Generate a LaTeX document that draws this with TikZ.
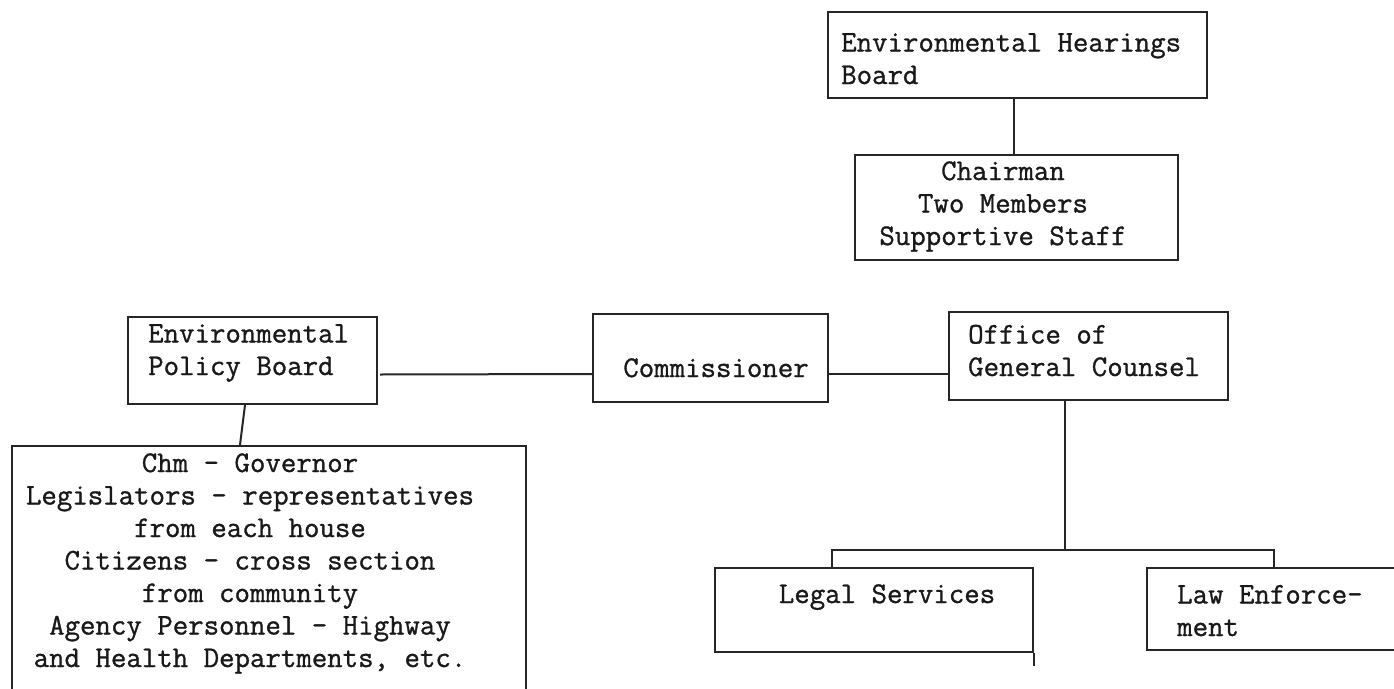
\documentclass[tikz,border=0pt]{standalone}
\usepackage{fontspec}
\setmonofont{Latin Modern Mono}[FakeBold=1]
\tikzset{
  box/.style={draw=black!85, line width=2pt, inner sep=0pt, rectangle},
  txt/.style={font=\fontsize{30}{32.5}\selectfont\ttfamily, inner sep=0pt, text=black!90},
  conn/.style={draw=black!85, line width=2pt}
}
\begin{document}
\begin{tikzpicture}[x=1pt,y=-1pt]
\useasboundingbox (0,0) rectangle (1394,688);
\fill[white] (0,0) rectangle (1394,688);

% boxes
\node[box, minimum width=379pt, minimum height=86pt] (ehb) at (1017.5,55) {};
\node[box, minimum width=323pt, minimum height=105pt] (chair) at (1016.5,207.5) {};
\node[box, minimum width=249pt, minimum height=87pt] (epb) at (252.5,360.5) {};
\node[box, minimum width=235pt, minimum height=88pt] (comm) at (710.5,358) {};
\node[box, minimum width=279pt, minimum height=88pt] (ogc) at (1088.5,356) {};
\node[box, minimum width=318pt, minimum height=84pt] (legal) at (874,610) {};
\node[box, minimum width=273pt, minimum height=82pt] (law) at (1283.5,609) {};
\node[box, minimum width=514pt, minimum height=290pt] (big) at (269,591) {};

% texts (anchor at baseline of last line)
\node[txt, anchor=base west, align=left] (ehbT) at (841,84) {Environmental Hearings\\Board};
\node[txt, anchor=base, align=center] (chairT) at (1003,245) {Chairman\\Two Members\\Supportive Staff};
\node[txt, anchor=base west, align=left] (epbT) at (148,375) {Environmental\\Policy Board};
\node[txt, anchor=base] (commT) at (716,377) {Commissioner};
\node[txt, anchor=base west, align=left] (ogcT) at (968,376) {Office of\\General Counsel};
\node[txt, anchor=base] (legalT) at (887,603) {Legal Services};
\node[txt, anchor=base west, align=left] (lawT) at (1177,636) {Law Enforce-\\ment};
\node[txt, anchor=base, align=center] (bigT) at (250,667) {Chm - Governor\\Legislators - representatives\\from each house\\Citizens - cross section\\from community\\Agency Personnel - Highway\\and Health Departments, etc.};

% connectors
\draw[conn] ([xshift=-3.5pt]ehb.south) -- ([xshift=-2.5pt]chair.north);
\draw[conn] ([xshift=-7.5pt]epb.south) -- ([xshift=-29pt]big.north);
\draw[conn] ([xshift=2pt,yshift=-14pt]epb.east) -- ([yshift=-16pt]comm.west);
\draw[conn] ([yshift=-16pt]comm.east) -- ([yshift=-18pt]ogc.west);
\coordinate (ogcbot) at ([xshift=-23.5pt]ogc.south);
\coordinate (legaltop) at ([xshift=-42pt]legal.north);
\coordinate (lawtop) at ([xshift=-9.5pt]law.north);
\coordinate (bus) at (ogcbot |- 0,550);
\draw[conn] (ogcbot) -- (bus);
\draw[conn] (legaltop) |- (bus) -| (lawtop);
\draw[conn] (legal.south east) -- ++(0,13);
\end{tikzpicture}
\end{document}
